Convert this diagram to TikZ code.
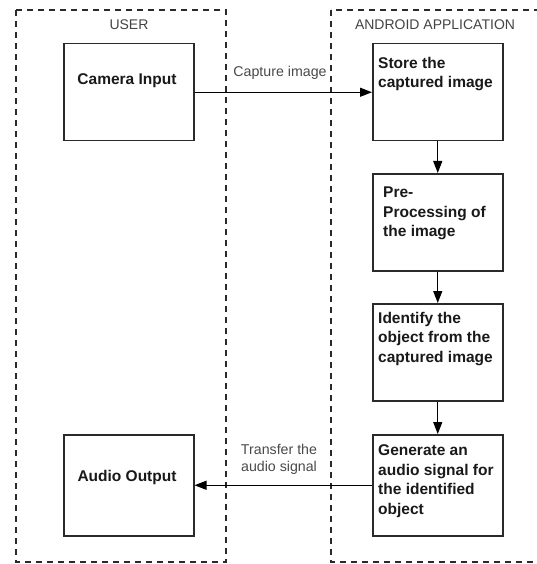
\documentclass[tikz,border=0pt]{standalone}
\usepackage{fontspec}
\setmainfont{Liberation Sans}
\usetikzlibrary{arrows.meta}
\definecolor{boxline}{HTML}{2A2A2A}
\definecolor{lanegray}{HTML}{444444}
\definecolor{labelgray}{HTML}{4A4A4A}
\tikzset{
  lane/.style={draw=boxline, line width=1.4pt, dash pattern=on 6pt off 5pt},
  procbox/.style={draw=boxline, line width=1.5pt, minimum width=130pt, minimum height=97pt, inner sep=0pt, anchor=north west},
  boxtext/.style={font=\fontsize{15.5}{19.5}\selectfont\bfseries, text=black!90, inner sep=0pt, align=left},
  lanetitle/.style={font=\fontsize{14}{17}\selectfont, text=lanegray, inner sep=0pt},
  flowlabel/.style={font=\fontsize{14.2}{17}\selectfont, text=labelgray, inner sep=0pt, align=center},
  flow/.style={draw=black, line width=1.3pt, -{Triangle[length=12pt,width=9pt]}}
}
\begin{document}
\begin{tikzpicture}[x=1pt,y=-1pt]
\useasboundingbox (0,0) rectangle (537,564);
\clip (0,0) rectangle (537,564);
\fill[white] (0,0) rectangle (537,564);
% lanes
\draw[lane] (16,10) rectangle (226,562);
\draw[lane] (331,10) rectangle (560,562);
\node[lanetitle] (usertitle) at (129,25) {USER};
\node[lanetitle] (apptitle) at (435,25) {ANDROID APPLICATION};
% boxes
\node[procbox] (cam) at (63,43) {};
\node[procbox] (store) at (372,43) {};
\node[procbox] (pre) at (372,173) {};
\node[procbox] (ident) at (372,303) {};
\node[procbox, minimum height=101pt] (gen) at (372,434) {};
\node[procbox, minimum height=101pt] (audio) at (63,434) {};
% box texts
\node[boxtext, anchor=north] (camt) at (127,73) {Camera Input};
\node[boxtext, anchor=north west] (storet) at (378,57) {Store the\\captured image};
\node[boxtext, anchor=north west] (pret) at (383,187) {Pre-\\Processing of\\the image};
\node[boxtext, anchor=north west] (identt) at (378,312) {Identify the\\object from the\\captured image};
\node[boxtext, anchor=north west] (gent) at (378,444.5) {Generate an\\audio signal for\\the identified\\object};
\node[boxtext, anchor=north] (audiot) at (127,470) {Audio Output};
% connectors
\draw[flow] (cam.east) -- (store.west);
\draw[flow] (store.south) -- (pre.north);
\draw[flow] (pre.south) -- (ident.north);
\draw[flow] (ident.south) -- (gen.north);
\draw[flow] (gen.west) -- (audio.east);
% labels
\node[flowlabel] (caplbl) at (280,73) {Capture image};
\node[flowlabel] (translbl) at (279,459.5) {Transfer the\\audio signal};
\end{tikzpicture}
\end{document}
